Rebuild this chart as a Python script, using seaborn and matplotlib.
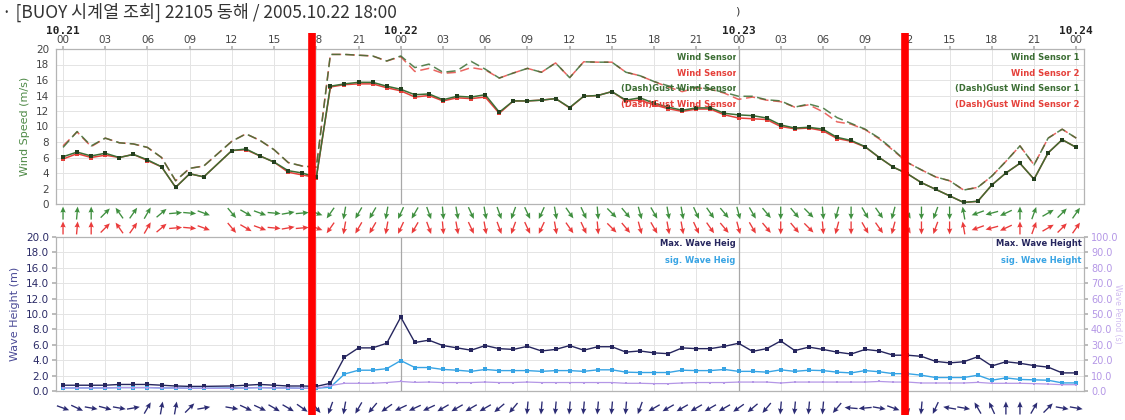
import matplotlib
matplotlib.use("Agg")
import matplotlib.pyplot as plt
from matplotlib.transforms import Bbox, TransformedBbox
import numpy as np
import pandas as pd
import seaborn as sns

# hourly observations from 10.21 00:00, hour 11 is missing
hours = list(range(0, 11)) + list(range(12, 73))

wind1 = [6.1, 6.7, 6.2, 6.55, 6.0, 6.4, 5.7, 4.8, 2.15, 3.9, 3.5,
         6.9, 7.1, 6.2, 5.4, 4.3, 4.0, 3.45, 15.2, 15.5, 15.7, 15.7, 15.2,
         14.8, 14.1, 14.2, 13.45, 13.9, 13.8, 14.1, 11.85, 13.3, 13.3, 13.4, 13.6,
         12.45, 13.9, 14.0, 14.5, 13.4, 13.7, 13.0, 12.5, 12.1, 12.4, 12.4, 11.7,
         11.5, 11.4, 11.1, 10.2, 9.8, 9.9, 9.65, 8.6, 8.2, 7.4, 6.0, 4.75,
         3.9, 2.75, 1.9, 1.05, 0.2, 0.35, 2.45, 4.0, 5.25, 3.2, 6.6, 8.3, 7.3]
wind2 = [5.8, 6.5, 6.0, 6.3, 6.0, 6.4, 5.6, 4.8, 2.15, 3.9, 3.5,
         6.9, 7.0, 6.2, 5.4, 4.1, 3.75, 3.4, 15.1, 15.4, 15.5, 15.5, 15.0,
         14.6, 13.8, 14.0, 13.3, 13.7, 13.6, 13.8, 11.7, 13.3, 13.3, 13.4, 13.6,
         12.4, 13.9, 14.0, 14.5, 13.3, 13.4, 12.8, 12.3, 11.95, 12.25, 12.25, 11.5,
         11.1, 11.0, 10.9, 10.0, 9.7, 9.8, 9.45, 8.45, 8.1, 7.35, 6.0, 4.75,
         3.9, 2.75, 1.9, 1.05, 0.2, 0.35, 2.45, 4.0, 5.25, 3.2, 6.6, 8.3, 7.3]
gust1 = [7.3, 9.35, 7.5, 8.5, 7.9, 7.75, 7.3, 6.0, 3.0, 4.6, 4.9,
         8.1, 9.05, 8.2, 7.0, 5.35, 4.9, 4.75, 19.3, 19.3, 19.2, 19.1, 18.45,
         19.1, 17.6, 18.05, 17.0, 17.2, 18.4, 17.4, 16.25, 16.9, 17.5, 17.0, 18.2,
         16.3, 18.35, 18.3, 18.3, 17.0, 16.55, 15.8, 15.25, 14.8, 15.1, 14.8, 14.4,
         13.9, 13.9, 13.45, 13.3, 12.5, 12.9, 12.4, 11.15, 10.4, 9.65, 8.5, 7.0,
         5.35, 4.4, 3.5, 3.0, 1.8, 2.15, 3.6, 5.5, 7.5, 5.05, 8.5, 9.65, 8.5]
gust2 = [7.5, 9.3, 7.4, 8.5, 7.9, 7.75, 7.3, 6.0, 3.0, 4.6, 4.9,
         8.1, 9.05, 8.2, 7.0, 5.35, 4.9, 4.75, 19.3, 19.3, 19.2, 19.1, 18.45,
         19.0, 17.1, 17.5, 16.85, 17.0, 17.6, 17.3, 16.25, 16.9, 17.5, 17.0, 18.2,
         16.3, 18.35, 18.3, 18.3, 17.0, 16.55, 15.8, 15.1, 14.5, 15.0, 14.8, 14.3,
         13.5, 13.8, 13.4, 13.2, 12.5, 12.8, 11.9, 10.6, 10.3, 9.6, 8.4, 6.9,
         5.35, 4.4, 3.5, 3.0, 1.8, 2.15, 3.6, 5.5, 7.5, 5.05, 8.5, 9.65, 8.5]

max_wave = [0.75, 0.75, 0.75, 0.75, 0.85, 0.85, 0.85, 0.75, 0.65, 0.6, 0.6,
            0.65, 0.75, 0.85, 0.75, 0.65, 0.65, 0.6, 1.0, 4.4, 5.6, 5.6, 6.2,
            9.6, 6.3, 6.6, 5.9, 5.6, 5.3, 5.9, 5.5, 5.4, 5.8, 5.2, 5.4,
            5.9, 5.3, 5.75, 5.75, 5.05, 5.2, 4.95, 4.85, 5.6, 5.5, 5.5, 5.8,
            6.2, 5.15, 5.5, 6.5, 5.25, 5.7, 5.4, 5.05, 4.8, 5.4, 5.2, 4.65,
            4.65, 4.5, 3.85, 3.65, 3.8, 4.45, 3.25, 3.8, 3.6, 3.3, 3.1, 2.35, 2.35]
sig_wave = [0.4, 0.4, 0.4, 0.4, 0.45, 0.45, 0.45, 0.4, 0.4, 0.35, 0.35,
            0.4, 0.4, 0.45, 0.4, 0.4, 0.35, 0.35, 0.5, 2.2, 2.7, 2.7, 2.9,
            3.95, 3.05, 3.05, 2.8, 2.7, 2.55, 2.8, 2.65, 2.65, 2.65, 2.55, 2.65,
            2.65, 2.55, 2.75, 2.75, 2.45, 2.4, 2.4, 2.4, 2.7, 2.65, 2.65, 2.8,
            2.55, 2.55, 2.45, 2.75, 2.55, 2.7, 2.65, 2.45, 2.35, 2.65, 2.5, 2.25,
            2.25, 2.05, 1.75, 1.75, 1.75, 2.05, 1.4, 1.7, 1.5, 1.45, 1.4, 1.05, 1.05]
wave_period = [2.0, 2.0, 2.0, 2.0, 2.2, 2.2, 2.2, 2.0, 2.0, 1.8, 1.8,
               1.8, 2.0, 2.2, 2.0, 2.0, 1.8, 1.8, 3.5, 5.0, 5.0, 5.0, 5.5,
               6.2, 5.6, 5.8, 5.5, 5.5, 5.5, 5.8, 5.5, 5.5, 5.8, 5.5, 5.5,
               5.5, 5.5, 5.5, 5.5, 5.0, 5.0, 4.8, 4.8, 5.2, 5.5, 5.5, 5.5,
               5.8, 5.8, 5.8, 5.2, 5.8, 5.8, 5.8, 5.8, 5.8, 5.8, 6.2, 5.8,
               5.8, 5.2, 5.2, 5.2, 5.2, 5.6, 5.0, 5.0, 5.0, 4.8, 4.5, 4.1, 4.1]

# arrow directions in screen degrees (0 = pointing right, 90 = pointing up)
wind_dir = [90, 85, 90, 45, 125, 55, 60, 40, 5, -5, -20,
            -50, -30, -20, -5, 10, 5, -20, -125, -100, -120, -120, -100,
            -115, -120, -70, -85, -80, -65, -80, -70, -110, -65, -115, -80,
            -55, -65, -85, -45, -50, -75, -60, -80, -80, -65, -55, -50,
            -75, -60, -50, -90, -50, -45, -85, -105, -90, -60, -55, -105,
            -60, -90, -110, -90, 100, -160, -165, -155, 90, 70, 30, 45, 55]
wave_dir = [-20, -25, -10, -15, -10, 10, 60, 80, 80, 45, 10,
            -10, -25, -25, -30, -30, -35, -50, -110, -100, -120, -130, -145,
            -155, -155, -155, -150, -150, -150, -150, -140, -130, -95, -95, -95,
            -95, -95, -95, -95, -95, -110, -150, -150, -150, -150, -150, -150,
            -145, -140, -130, -95, -95, -95, -95, -130, 175, -175, -10, -20,
            -80, -95, -115, 170, -10, 120, 115, 90, 90, 60, 45, -10, -10]

tick_hours = list(range(0, 73, 3))
day_hours = [0, 24, 48, 72]
day_labels = ["10.21", "10.22", "10.23", "10.24"]
marked_hours = [17.7, 59.8]

title = "· [BUOY 시계열 조회] 22105 동해 / 2005.10.22 18:00"

GREEN = "#3c6e34"
RED = "#e5403a"
NAVY = "#26265e"
SKY = "#38a4e4"
PURPLE = "#b497e6"
GRID = "#e4e4e4"
SPINE = "#b4b4b4"

sns.set_theme(style="white")
plt.rcParams["font.family"] = ["DejaVu Sans"]

df = pd.DataFrame({"hour": hours, "wind1": wind1, "wind2": wind2, "gust1": gust1,
                   "gust2": gust2, "max_wave": max_wave, "sig_wave": sig_wave,
                   "period": wave_period})

fig = plt.figure(figsize=(11.25, 4.2), dpi=100)
W, H = 1125, 420


def box(x0, y0, x1, y1):
    return [x0 / W, 1 - y1 / H, (x1 - x0) / W, (y1 - y0) / H]


xlim = (-0.5, 72.55)

ax_w = fig.add_axes(box(56, 49, 1084, 204))
ax_a1 = fig.add_axes(box(56, 205, 1084, 236))
ax_h = fig.add_axes(box(56, 237, 1084, 391))
ax_a2 = fig.add_axes(box(56, 396, 1084, 420))


def style_panel(ax, ymax, ystep, fmt, color):
    ax.set_xlim(*xlim)
    ax.set_ylim(0, ymax)
    ax.set_xticks(tick_hours)
    ax.set_yticks(np.arange(0, ymax + 0.01, ystep))
    ax.set_yticklabels([fmt.format(v) for v in np.arange(0, ymax + 0.01, ystep)],
                       fontsize=7.5, color=color)
    ax.grid(True, color=GRID, lw=0.7)
    for h in (24, 48):
        ax.axvline(h, color="#a8a8a8", lw=0.9, zorder=1)
    for s in ax.spines.values():
        s.set_color(SPINE)
        s.set_linewidth(0.9)
    ax.tick_params(axis="y", length=3, color=SPINE, pad=2)


def legend_block(ax, rows, ys, x_full):
    # full legend at the right edge, plus the copy cut off at the 10.23 seam
    clip = TransformedBbox(Bbox([[0, 0], [0.661, 1]]), ax.transAxes)
    for (lab, c), yy in zip(rows, ys):
        ax.text(x_full, yy, lab, transform=ax.transAxes, ha="right", va="center",
                fontsize=6, fontweight="bold", color=c, zorder=6)
        t = ax.text(0.671, yy, lab, transform=ax.transAxes, ha="right", va="center",
                    fontsize=6, fontweight="bold", color=c, zorder=6)
        t.set_clip_box(clip)
        t.set_clip_on(True)


# --- wind speed panel
style_panel(ax_w, 20, 2, "{:.0f}", "#444444")
ax_w.xaxis.tick_top()
ax_w.set_xticklabels([f"{h % 24:02d}" for h in tick_hours], fontsize=7.5, color="#444444")
ax_w.tick_params(axis="x", length=2, color=SPINE, pad=1)

sns.lineplot(data=df, x="hour", y="gust2", ax=ax_w, color=RED, lw=1.1,
             linestyle=(0, (6, 3)), alpha=0.8)
sns.lineplot(data=df, x="hour", y="gust1", ax=ax_w, color=GREEN, lw=1.1,
             linestyle=(0, (6, 3)), alpha=0.85)
sns.lineplot(data=df, x="hour", y="wind2", ax=ax_w, color=RED, lw=1.1,
             marker="s", markersize=2.6, markeredgewidth=0)
sns.lineplot(data=df, x="hour", y="wind1", ax=ax_w, color=GREEN, lw=1.1,
             marker="s", markersize=2.6, markeredgewidth=0, markerfacecolor="#24401f")
ax_w.set_xlabel("")
ax_w.set_ylabel("Wind Speed (m/s)", fontsize=8, color="#4f8a47", labelpad=4)

for h, lab in zip(day_hours, day_labels):
    ax_w.text(h, 1.118, lab, transform=ax_w.get_xaxis_transform(), ha="center",
              va="center", fontsize=8, fontweight="bold", family="DejaVu Sans Mono",
              color="#222222")

legend_block(ax_w,
             [("Wind Sensor 1", GREEN), ("Wind Sensor 2", RED),
              ("(Dash)Gust Wind Sensor 1", GREEN), ("(Dash)Gust Wind Sensor 2", RED)],
             [0.948, 0.845, 0.748, 0.645], 0.996)

# --- arrow strips
theta_w = np.deg2rad(wind_dir)
theta_v = np.deg2rad(wave_dir)
quiv = dict(angles="uv", scale_units="dots", scale=1 / 13, pivot="middle",
            width=0.0013, headwidth=4, headlength=4.5, headaxislength=4)
ax_a1.quiver(hours, [0.74] * len(hours), np.cos(theta_w), np.sin(theta_w), color="#3f8f3f", **quiv)
ax_a1.quiver(hours, [0.26] * len(hours), np.cos(theta_w), np.sin(theta_w), color="#ea3b3b", **quiv)
ax_a2.quiver(hours, [0.5] * len(hours), np.cos(theta_v), np.sin(theta_v), color="#2b2b73", **quiv)
for ax in (ax_a1, ax_a2):
    ax.set_xlim(*xlim)
    ax.set_ylim(0, 1)
    ax.axis("off")

# --- wave panel
style_panel(ax_h, 20, 2, "{:.1f}", "#2a2a66")
ax_h.tick_params(axis="x", length=0, labelbottom=False)
sns.lineplot(data=df, x="hour", y="max_wave", ax=ax_h, color=NAVY, lw=1.0,
             marker="s", markersize=2.4, markeredgewidth=0, zorder=4)
sns.lineplot(data=df, x="hour", y="sig_wave", ax=ax_h, color=SKY, lw=1.0,
             marker="s", markersize=2.4, markeredgewidth=0, zorder=3)
ax_h.set_xlabel("")
ax_h.set_ylabel("Wave Height (m)", fontsize=8, color="#4a4a96", labelpad=4)

ax_p = ax_h.twinx()
ax_p.set_ylim(0, 100)
ax_p.set_yticks(np.arange(0, 101, 10))
ax_p.set_yticklabels([f"{v:.1f}" for v in range(0, 101, 10)], fontsize=7, color=PURPLE)
ax_p.tick_params(axis="y", length=3, color=SPINE, pad=2)
sns.lineplot(data=df, x="hour", y="period", ax=ax_p, color=PURPLE, lw=0.9,
             marker="s", markersize=2, markeredgewidth=0)
ax_p.set_xlim(*xlim)
ax_p.set_xlabel("")
ax_p.set_ylabel("Wave Period (s)", fontsize=5.5, color="#d2bff0", rotation=270, va="center")
ax_p.yaxis.set_label_coords(1.0325, 0.5)
for s in ax_p.spines.values():
    s.set_visible(False)

legend_block(ax_h, [("Max. Wave Height", NAVY), ("sig. Wave Height", SKY)],
             [0.955, 0.85], 0.998)

# --- title
fig.text(2 / W, 1 - 12 / H, title, ha="left", va="center", fontsize=12.5, color="#333333",
         family=["Noto Sans CJK KR", "DejaVu Sans"])
fig.text(737 / W, 1 - 12 / H, ")", ha="center", va="center", fontsize=8, color="#333333")

# --- red markers over the whole chart
ax_o = fig.add_axes(box(56, 33, 1084, 415), facecolor="none")
ax_o.set_xlim(*xlim)
ax_o.set_ylim(0, 1)
ax_o.axis("off")
for h in marked_hours:
    ax_o.axvline(h, color="#ff0000", lw=5.5)

fig.savefig("out.png", dpi=100)
